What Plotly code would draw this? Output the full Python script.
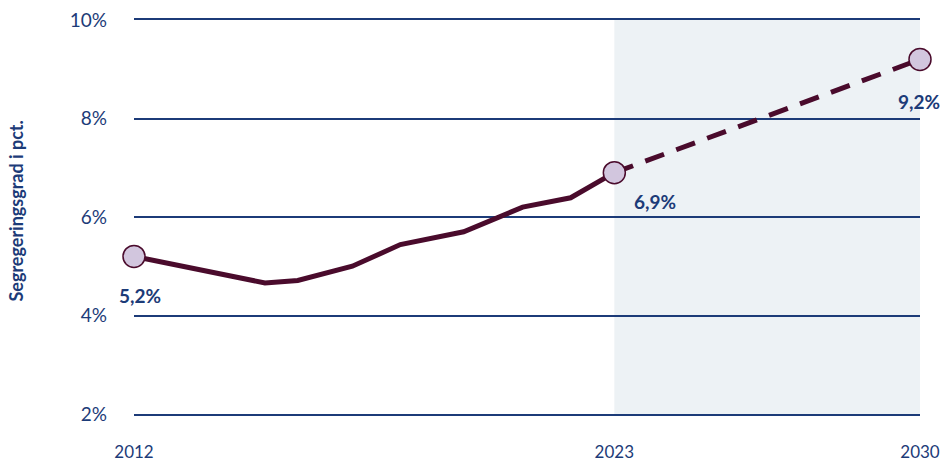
import plotly.graph_objects as go

# Historical series (solid)
years = [2012, 2015, 2015.75, 2017, 2018.1, 2019.55, 2020.9, 2022, 2023]
values = [5.2, 4.66, 4.71, 5.0, 5.44, 5.70, 6.20, 6.39, 6.9]

# Projection (dashed)
proj_years = [2023, 2030]
proj_values = [6.9, 9.2]

# Highlighted points
mark_years = [2012, 2023, 2030]
mark_values = [5.2, 6.9, 9.2]
mark_labels = ["5,2%", "6,9%", "9,2%"]

x_ticks = [2012, 2023, 2030]
y_ticks = [2, 4, 6, 8, 10]
y_ticklabels = ["2%", "4%", "6%", "8%", "10%"]

BLUE = "#1c3b78"
MAROON = "#4a0b2c"
FONT = "Lato"

fig = go.Figure()

fig.add_shape(type="rect", xref="x", yref="y", x0=2023, x1=2030, y0=2, y1=10,
              fillcolor="#edf2f5", line=dict(width=0), layer="below")

fig.add_trace(go.Scatter(x=years, y=values, mode="lines",
                         line=dict(color=MAROON, width=5), hoverinfo="skip",
                         showlegend=False))
fig.add_trace(go.Scatter(x=proj_years, y=proj_values, mode="lines",
                         line=dict(color=MAROON, width=5, dash="20px,13px"),
                         hoverinfo="skip", showlegend=False))
fig.add_trace(go.Scatter(x=mark_years, y=mark_values, mode="markers",
                         marker=dict(size=22, color="#d2c6de",
                                     line=dict(color=MAROON, width=1.5)),
                         cliponaxis=False, showlegend=False))

shifts = [(6, -39), (41, -29), (-1, -42)]
for xv, yv, lab, (dx, dy) in zip(mark_years, mark_values, mark_labels, shifts):
    fig.add_annotation(x=xv, y=yv, xref="x", yref="y", text="<b>%s</b>" % lab,
                       showarrow=False, xshift=dx, yshift=dy,
                       font=dict(family=FONT, size=19, color=BLUE))

fig.add_annotation(xref="paper", yref="paper", x=-0.1495, y=0.515,
                   xanchor="center", yanchor="middle",
                   text="<b>Segregeringsgrad i pct.</b>", textangle=-90,
                   showarrow=False, font=dict(family=FONT, size=18, color=BLUE))

fig.update_layout(
    width=943, height=462,
    margin=dict(l=134, r=23, t=20, b=48),
    plot_bgcolor="white", paper_bgcolor="white",
    font=dict(family=FONT, color=BLUE, size=16),
)
fig.update_xaxes(range=[2012, 2030], tickvals=x_ticks, ticktext=[str(v) for v in x_ticks],
                 showgrid=False, zeroline=False, automargin=False,
                 showline=True, mirror=True, linecolor=BLUE, linewidth=1.5,
                 ticks="", ticklabelstandoff=22,
                 tickfont=dict(family=FONT, size=17, color=BLUE))
fig.update_yaxes(range=[2, 10], tickvals=y_ticks, ticktext=y_ticklabels,
                 showgrid=True, gridcolor=BLUE, gridwidth=1.5, automargin=False,
                 zeroline=False, showline=False, ticks="", ticklabelstandoff=26,
                 tickfont=dict(family=FONT, size=19, color=BLUE))

fig.write_html("out.html", config={"displayModeBar": False},
               post_script="document.body.style.margin='0';document.body.style.overflow='hidden';")
